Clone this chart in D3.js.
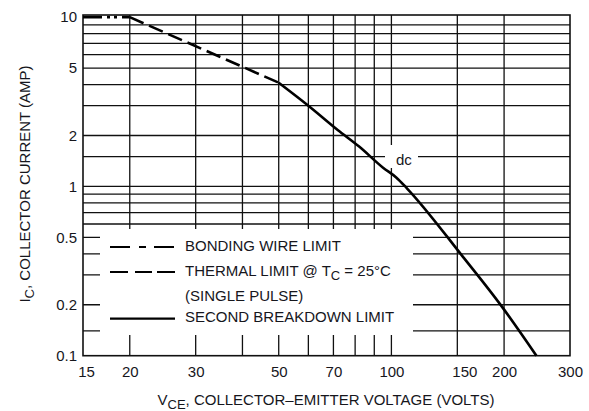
<!DOCTYPE html>
<html>
<head>
<meta charset="utf-8">
<script src="https://cdn.jsdelivr.net/npm/d3@7"></script>
<style>
  html, body { margin: 0; padding: 0; background: #fff; }
  svg { display: block; }
  text { font-family: "Liberation Sans", Arial, sans-serif; fill: #16161c; }
</style>
</head>
<body>
<script>
// ---------- data ----------
const xTickValues = [15, 20, 30, 50, 70, 100, 150, 200, 300];
const xGridValues = [20, 30, 40, 50, 60, 70, 80, 90, 100, 150, 200];
const yTickValues = [10, 5, 2, 1, 0.5, 0.2, 0.1];
const yGridValues = [9, 8, 7, 6, 5, 4, 3, 2, 1.5, 1, 0.9, 0.8, 0.7, 0.6, 0.5, 0.4, 0.3, 0.2, 0.14];

// Bonding wire limit
const bondV = [15, 20];
const bondI = [10, 10];
// Thermal limit @ Tc = 25°C (single pulse)
const thermV = [20, 50];
const thermI = [10, 4.1];
// Second breakdown limit
const sbV = [50, 60, 72, 82, 95, 103, 110, 154, 196, 244];
const sbI = [4.1, 3.0, 2.15, 1.72, 1.29, 1.13, 0.975, 0.393, 0.199, 0.1];

const legendLabels = ["BONDING WIRE LIMIT", "THERMAL LIMIT @ T", "(SINGLE PULSE)", "SECOND BREAKDOWN LIMIT"];

// ---------- layout ----------
const W = 589, H = 411;
const m = { left: 83, right: 19, top: 15, bottom: 55.3 };

const svg = d3.select("body").append("svg").attr("width", W).attr("height", H);

const x = d3.scaleLog().domain([15, 300]).range([m.left, W - m.right]);
const y = d3.scaleLog().domain([0.1, 10.3]).range([H - m.bottom, m.top]);

const x0 = x.range()[0], x1 = x.range()[1];
const y0 = y.range()[1], y1 = y.range()[0];

const grid = svg.append("g").attr("stroke", "#111").attr("stroke-width", 1.3);
grid.selectAll("line.v").data(xGridValues).join("line")
  .attr("x1", d => x(d)).attr("x2", d => x(d)).attr("y1", y0).attr("y2", y1);
grid.selectAll("line.h").data(yGridValues).join("line")
  .attr("x1", x0).attr("x2", x1).attr("y1", d => y(d)).attr("y2", d => y(d));

// white area for legend (grid interrupted)
svg.append("rect").attr("x", 100).attr("y", 229).attr("width", 313).attr("height", 106).attr("fill", "#fff");
// white area behind dc label
svg.append("rect").attr("x", 385).attr("y", 145).attr("width", 33).attr("height", 23).attr("fill", "#fff");

// border
svg.append("rect").attr("x", x0).attr("y", y0).attr("width", x1 - x0).attr("height", y1 - y0)
  .attr("fill", "none").attr("stroke", "#111").attr("stroke-width", 1.6);

// ---------- curves ----------
const line = d3.line().x(d => x(d[0])).y(d => y(d[1]));
const smooth = d3.line().x(d => x(d[0])).y(d => y(d[1])).curve(d3.curveMonotoneX);
const curves = svg.append("g").attr("fill", "none").attr("stroke", "#000").attr("stroke-width", 2.6);
curves.append("path").attr("d", line(bondV.map((v, i) => [v, bondI[i]])))
  .attr("stroke-dasharray", "19,5,3,4,3,5");
curves.append("path").attr("d", line(thermV.map((v, i) => [v, thermI[i]])))
  .attr("stroke-dasharray", "15,6");
curves.append("path").attr("d", smooth(sbV.map((v, i) => [v, sbI[i]])));

// ---------- axes labels ----------
const xAxis = d3.axisBottom(x).tickValues(xTickValues).tickFormat(d3.format("d")).tickSize(0).tickPadding(11);
const gx = svg.append("g").attr("transform", `translate(0,${y1})`).call(xAxis);
gx.select(".domain").remove();
gx.selectAll("text").attr("font-size", 15).style("font-family", "Liberation Sans, Arial, sans-serif").attr("fill", "#16161c")
  .attr("dx", d => d === 150 ? 7 : d === 15 ? 3 : 0);

const yAxis = d3.axisLeft(y).tickValues(yTickValues).tickFormat(d => String(d)).tickSize(0).tickPadding(6);
const gy = svg.append("g").attr("transform", `translate(${x0},0)`).call(yAxis);
gy.select(".domain").remove();
gy.selectAll("text").attr("font-size", 15).style("font-family", "Liberation Sans, Arial, sans-serif").attr("fill", "#16161c");

// x title
const xt = svg.append("text").attr("x", 326).attr("y", 405).attr("text-anchor", "middle").attr("font-size", 15);
xt.append("tspan").text("V");
xt.append("tspan").attr("font-size", 13).attr("dy", 4).text("CE");
xt.append("tspan").attr("dy", -4).text(", COLLECTOR–EMITTER VOLTAGE (VOLTS)");

// y title
const yt = svg.append("text").attr("transform", "translate(30,184) rotate(-90)").attr("text-anchor", "middle").attr("font-size", 15);
yt.append("tspan").text("I");
yt.append("tspan").attr("font-size", 13).attr("dy", 4).text("C");
yt.append("tspan").attr("dy", -4).text(", COLLECTOR CURRENT (AMP)");

// dc label
svg.append("text").attr("x", 396).attr("y", 165).attr("font-size", 15).text("dc");

// ---------- legend ----------
const lg = svg.append("g");
const sampleX0 = 110, sampleX1 = 175, textX = 185;
const rowY = [245, 270, 295, 316.7];
const samples = [
  { row: 0, dash: "20,9,7,8,20" },
  { row: 1, dash: "18,7,17,5,18" },
  { row: 3, dash: null }
];
samples.forEach(s => {
  lg.append("line").attr("x1", sampleX0).attr("x2", sampleX1)
    .attr("y1", rowY[s.row] + 2).attr("y2", rowY[s.row] + 2)
    .attr("stroke", "#000").attr("stroke-width", 2.2)
    .attr("stroke-dasharray", s.dash);
});
legendLabels.forEach((t, i) => {
  const tx = lg.append("text").attr("x", textX).attr("y", rowY[i] + 5.5).attr("font-size", 15);
  tx.append("tspan").text(t);
  if (i === 1) {
    tx.append("tspan").attr("font-size", 13).attr("dy", 4).text("C");
    tx.append("tspan").attr("dy", -4).text(" = 25°C");
  }
});
</script>
</body>
</html>
